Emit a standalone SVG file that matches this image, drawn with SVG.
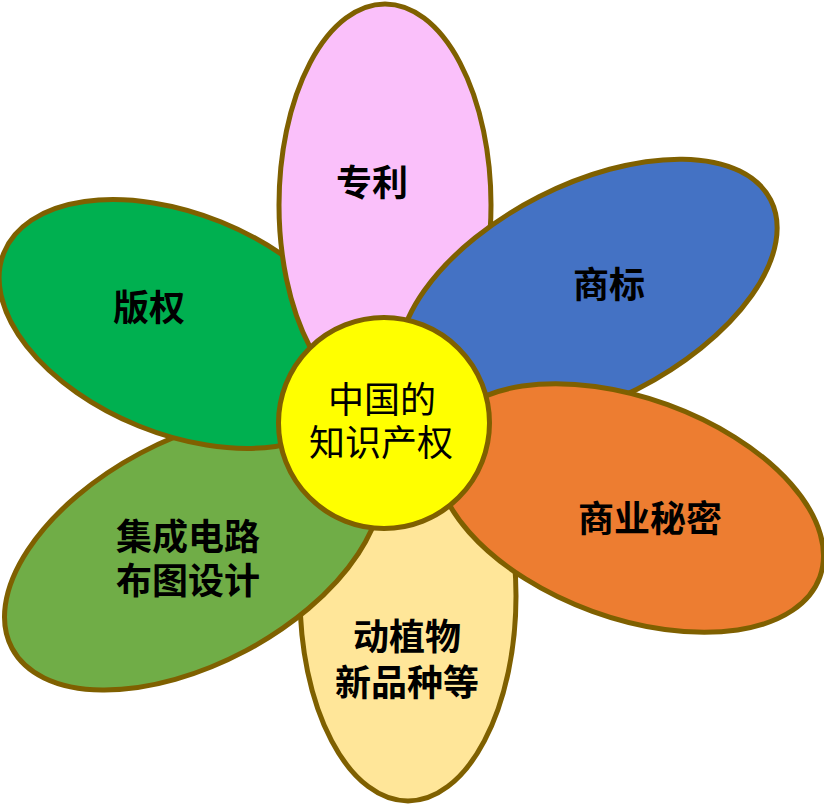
<svg xmlns="http://www.w3.org/2000/svg" width="824" height="806" viewBox="0 0 824 806">
<style>
.p{stroke:#7F6000;stroke-width:5}
.t{font-family:"Noto Sans CJK SC","Noto Sans CJK JP",sans-serif;font-size:36px;font-weight:bold;fill:#000;text-anchor:middle}
.c{font-weight:normal}
</style>
<rect width="824" height="806" fill="#fff"/>
<g id="petal-plant">
<ellipse class="p" cx="408" cy="596" rx="108" ry="205" fill="#FFE699"/>
<text class="t" x="407" y="650">动植物</text>
<text class="t" x="407" y="696">新品种等</text>
</g>
<g id="petal-ic">
<ellipse class="p" cx="0" cy="0" rx="205" ry="112" fill="#70AD47" transform="translate(193 552) rotate(-28)"/>
<text class="t" x="188" y="550">集成电路</text>
<text class="t" x="188" y="594">布图设计</text>
</g>
<g id="petal-copyright">
<ellipse class="p" cx="0" cy="0" rx="190" ry="110" fill="#00B050" transform="translate(180 324) rotate(22)"/>
<text class="t" x="149" y="321">版权</text>
</g>
<g id="petal-patent">
<ellipse class="p" cx="385" cy="205" rx="106" ry="201" fill="#FAC0FA"/>
<text class="t" x="372" y="196">专利</text>
</g>
<g id="petal-trademark">
<ellipse class="p" cx="0" cy="0" rx="205" ry="108" fill="#4472C4" transform="translate(588 293) rotate(-27)"/>
<text class="t" x="609" y="298">商标</text>
</g>
<g id="petal-secret">
<ellipse class="p" cx="0" cy="0" rx="202" ry="110" fill="#ED7D31" transform="translate(630 508) rotate(20)"/>
<text class="t" x="650" y="532">商业秘密</text>
</g>
<g id="center">
<circle class="p" cx="384" cy="423" r="105.5" fill="#FFFF00"/>
<text class="t c" x="382" y="413">中国的</text>
<text class="t c" x="381" y="456">知识产权</text>
</g>
<g id="connectors"/>
</svg>
